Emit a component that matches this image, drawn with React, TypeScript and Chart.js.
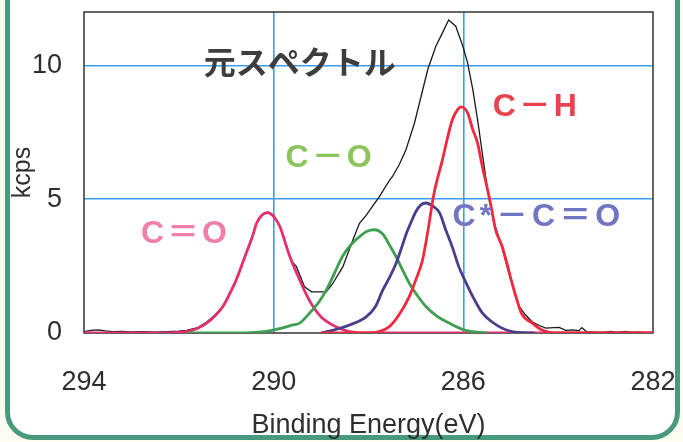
import React, { useEffect, useRef } from "react";
import { Chart, registerables } from "chart.js";

Chart.register(...registerables);

// ---- Data (Binding Energy in eV, intensity in kcps) ----
const totalEnergy = [294.0, 293.85, 293.7, 293.55, 293.4, 293.2, 293.0, 292.75, 292.5, 292.25, 292.0, 291.84, 291.6, 291.42, 291.25, 291.07, 290.93, 290.79, 290.58, 290.45, 290.36, 290.25, 290.13, 290.0, 289.87, 289.73, 289.6, 289.52, 289.35, 289.2, 289.05, 288.89, 288.75, 288.54, 288.33, 288.19, 288.05, 287.91, 287.77, 287.56, 287.49, 287.35, 287.21, 287.03, 286.89, 286.75, 286.58, 286.44, 286.31, 286.16, 286.01, 285.91, 285.8, 285.7, 285.59, 285.49, 285.35, 285.2, 285.05, 284.92, 284.82, 284.7, 284.55, 284.4, 284.26, 284.1, 283.98, 283.84, 283.7, 283.56, 283.5, 283.4, 283.2, 283.0, 282.9, 282.75, 282.6, 282.45, 282.3, 282.15, 282.0];
const totalKcps = [0.05, 0.1, 0.12, 0.08, 0.05, 0.06, 0.04, 0.05, 0.03, 0.05, 0.07, 0.1, 0.2, 0.4, 0.65, 1.0, 1.5, 2.0, 3.0, 3.6, 4.1, 4.4, 4.52, 4.4, 4.0, 3.2, 2.65, 2.48, 1.73, 1.54, 1.54, 1.54, 1.86, 2.48, 3.48, 4.1, 4.4, 4.75, 5.1, 5.7, 5.86, 6.3, 6.85, 7.85, 8.85, 9.85, 10.72, 11.22, 11.7, 11.47, 10.72, 10.1, 9.1, 7.98, 6.6, 5.36, 4.1, 3.3, 2.3, 1.5, 0.99, 0.7, 0.42, 0.28, 0.18, 0.2, 0.21, 0.1, 0.12, 0.09, 0.2, 0.05, 0.02, 0.03, 0.06, 0.02, 0.06, 0.02, 0.03, 0.01, 0.02];

const coEnergy = [294.0, 292.5, 291.84, 291.6, 291.42, 291.25, 291.07, 290.93, 290.79, 290.58, 290.45, 290.36, 290.25, 290.13, 290.0, 289.87, 289.66, 289.45, 289.3, 289.17, 289.0, 288.82, 288.6, 288.4, 288.0, 282.0];
const coKcps = [0, 0, 0.05, 0.18, 0.36, 0.62, 0.99, 1.45, 1.98, 2.98, 3.6, 4.1, 4.4, 4.5, 4.35, 3.98, 2.86, 1.98, 1.4, 0.99, 0.6, 0.36, 0.17, 0.05, 0, 0];

const cSingleOEnergy = [291.8, 290.8, 290.2, 289.9, 289.6, 289.45, 289.24, 289.05, 288.89, 288.72, 288.55, 288.37, 288.19, 288.03, 287.87, 287.7, 287.56, 287.42, 287.28, 287.14, 286.97, 286.79, 286.55, 286.3, 285.95, 285.5];
const cSingleOKcps = [0, 0, 0.05, 0.15, 0.3, 0.37, 0.75, 1.15, 1.6, 2.23, 2.86, 3.3, 3.6, 3.8, 3.86, 3.7, 3.3, 2.86, 2.35, 1.86, 1.4, 0.99, 0.62, 0.37, 0.1, 0];

const alphaEnergy = [289.0, 288.76, 288.4, 288.05, 287.85, 287.7, 287.55, 287.42, 287.3, 287.2, 287.1, 287.0, 286.9, 286.79, 286.65, 286.5, 286.37, 286.23, 286.1, 285.95, 285.8, 285.6, 285.4, 285.2, 284.9, 284.5];
const alphaKcps = [0, 0.1, 0.3, 0.6, 1.0, 1.6, 2.1, 2.6, 3.2, 3.73, 4.15, 4.54, 4.78, 4.86, 4.75, 4.49, 3.85, 3.2, 2.5, 1.9, 1.36, 0.75, 0.42, 0.2, 0.03, 0];

const chEnergy = [289.0, 288.0, 287.56, 287.35, 287.14, 287.0, 286.86, 286.74, 286.62, 286.44, 286.32, 286.23, 286.12, 286.05, 285.91, 285.8, 285.7, 285.6, 285.49, 285.4, 285.32, 285.18, 285.08, 284.99, 284.88, 284.78, 284.54, 284.33, 284.0, 282.0];
const chKcps = [0, 0, 0.24, 0.7, 1.36, 2.0, 2.73, 3.9, 5.2, 6.48, 7.4, 7.98, 8.35, 8.45, 8.23, 7.6, 7.1, 6.23, 5.36, 4.6, 3.86, 3.23, 2.6, 1.98, 1.3, 0.75, 0.36, 0.1, 0, 0];

const xTickLabels = [294, 290, 286, 282];
const yTickLabels = [0, 5, 10];
const xGridValues = [290, 286];
const yGridValues = [5, 10];

const xTitle = "Binding Energy(eV)";
const yTitle = "kcps";

// annotation texts with anchor (energy, kcps)
const labelTexts = ["元スペクトル", "C－O", "C＝O", "C－H", "C*－C＝O"];
const labelEnergies = [289.45, 288.81, 291.86, 284.46, 284.42];
const labelKcps = [10.15, 6.55, 3.71, 8.43, 4.34];

const toPoints = (xs: number[], ys: number[]) => xs.map((x, i) => ({ x, y: ys[i] }));

const SANS = "'Liberation Sans', Arial, sans-serif";
const GRID_BLUE = "#3d9cf2";

export default function App() {
  const canvasRef = useRef<HTMLCanvasElement | null>(null);

  useEffect(() => {
    const canvas = canvasRef.current;
    if (!canvas) return;

    const labelStyles = [
      { font: `bold 32px 'Noto Sans CJK JP', sans-serif`, color: "#3d3d3d", spacing: "0px" },
      { font: `bold 32px ${SANS}, 'Noto Sans CJK JP'`, color: "#8cc45c", spacing: "3px" },
      { font: `bold 32px ${SANS}, 'Noto Sans CJK JP'`, color: "#f27fa6", spacing: "3px" },
      { font: `bold 32px ${SANS}, 'Noto Sans CJK JP'`, color: "#e8434f", spacing: "3px" },
      { font: `bold 32px ${SANS}, 'Noto Sans CJK JP'`, color: "#7076c2", spacing: "4px" },
    ];

    const framePlugin = {
      id: "frame",
      beforeDatasetsDraw(chart: any) {
        const { ctx, chartArea } = chart;
        ctx.save();
        ctx.strokeStyle = "#333333";
        ctx.lineWidth = 1.5;
        ctx.strokeRect(chartArea.left, chartArea.top, chartArea.right - chartArea.left, chartArea.bottom - chartArea.top);
        ctx.restore();
      },
    };

    const labelPlugin = {
      id: "peakLabels",
      afterDatasetsDraw(chart: any) {
        const { ctx } = chart;
        const xs = chart.scales.x;
        const ys = chart.scales.y;
        ctx.save();
        labelTexts.forEach((t, i) => {
          const st = labelStyles[i];
          ctx.font = st.font;
          ctx.fillStyle = st.color;
          (ctx as any).letterSpacing = st.spacing;
          ctx.textAlign = "center";
          ctx.textBaseline = "middle";
          ctx.fillText(t, xs.getPixelForValue(labelEnergies[i]), ys.getPixelForValue(labelKcps[i]));
        });
        ctx.restore();
      },
    };

    const lineDs = (label: string, xsArr: number[], ysArr: number[], color: string, width: number, tension: number) => ({
      label,
      data: toPoints(xsArr, ysArr),
      borderColor: color,
      backgroundColor: color,
      borderWidth: width,
      pointRadius: 0,
      fill: false,
      tension,
      cubicInterpolationMode: tension > 0 ? "monotone" : "default",
    });

    const clearPadding = (scale: any) => {
      scale.paddingLeft = 0;
      scale.paddingRight = 0;
      scale.paddingTop = 0;
      scale.paddingBottom = 0;
    };

    const chart = new Chart(canvas, {
      type: "line",
      data: {
        datasets: [
          lineDs("C-H", chEnergy, chKcps, "#f2283f", 2.8, 0.4),
          lineDs("C*-C=O", alphaEnergy, alphaKcps, "#4a3e8c", 2.8, 0.4),
          lineDs("C-O", cSingleOEnergy, cSingleOKcps, "#3f9e4f", 2.8, 0.4),
          lineDs("C=O", coEnergy, coKcps, "#e5306c", 2.8, 0.4),
          lineDs("total", totalEnergy, totalKcps, "#1a1a1a", 1.3, 0),
        ] as any,
      },
      options: {
        responsive: false,
        animation: false,
        events: [],
        layout: { padding: { left: 0, right: 30, top: 12, bottom: 0 } },
        plugins: {
          legend: { display: false },
          tooltip: { enabled: false },
        },
        scales: {
          x: {
            type: "linear",
            min: 282,
            max: 294,
            reverse: true,
            afterBuildTicks: (scale: any) => {
              scale.ticks = xTickLabels.map((v) => ({ value: v }));
            },
            afterFit: (scale: any) => {
              scale.height = 109;
              clearPadding(scale);
            },
            ticks: {
              padding: 33,
              color: "#2e2e2e",
              font: { family: SANS, size: 27 },
              maxRotation: 0,
              autoSkip: false,
            },
            grid: {
              drawTicks: false,
              lineWidth: 1.6,
              color: (c: any) => (c.tick && xGridValues.includes(c.tick.value) ? GRID_BLUE : "rgba(0,0,0,0)"),
            },
            border: { display: false },
            title: {
              display: true,
              text: xTitle,
              color: "#2e2e2e",
              font: { family: SANS, size: 27 },
              padding: { top: 0, bottom: 0 },
            },
          },
          y: {
            type: "linear",
            min: 0,
            max: 12,
            afterBuildTicks: (scale: any) => {
              scale.ticks = yTickLabels.map((v) => ({ value: v }));
            },
            afterFit: (scale: any) => {
              scale.width = 84;
              clearPadding(scale);
            },
            ticks: {
              padding: 22,
              color: "#2e2e2e",
              font: { family: SANS, size: 27 },
            },
            grid: {
              drawTicks: false,
              lineWidth: 1.6,
              color: (c: any) => (c.tick && yGridValues.includes(c.tick.value) ? GRID_BLUE : "rgba(0,0,0,0)"),
            },
            border: { display: false },
            title: {
              display: true,
              text: yTitle,
              color: "#2e2e2e",
              font: { family: SANS, size: 25 },
              padding: { top: 8, bottom: 0 },
            },
          },
        },
      } as any,
      plugins: [framePlugin, labelPlugin],
    });

    return () => {
      chart.destroy();
    };
  }, []);

  return (
    <div
      style={{
        position: "fixed",
        left: 0,
        top: 0,
        width: 683,
        height: 442,
        overflow: "hidden",
        background: "#fbfbf2",
      }}
    >
      <div
        style={{
          position: "absolute",
          left: 5,
          top: -40,
          width: 675,
          height: 480,
          boxSizing: "border-box",
          border: "5px solid #479b7c",
          borderRadius: 28,
          background: "#ffffff",
        }}
      />
      <canvas
        ref={canvasRef}
        width={683}
        height={442}
        style={{ position: "absolute", left: 0, top: 0, width: 683, height: 442 }}
      />
    </div>
  );
}
